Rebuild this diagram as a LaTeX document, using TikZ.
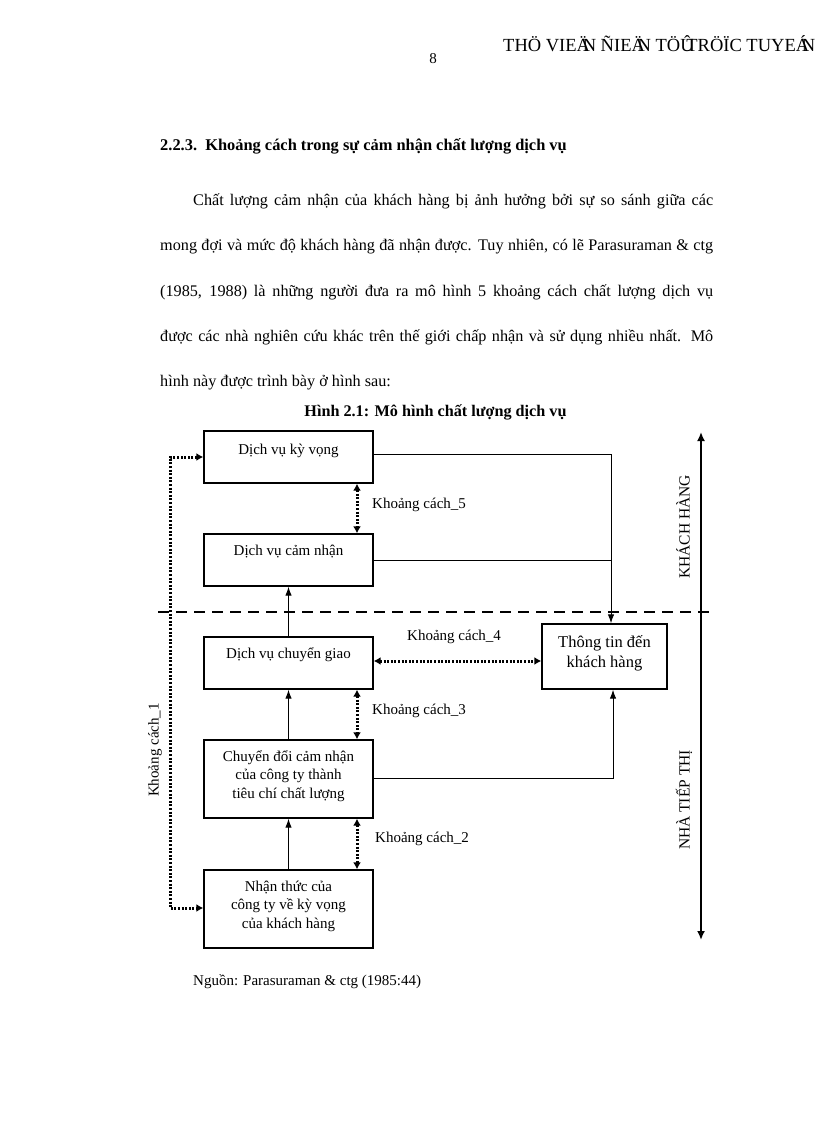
\documentclass[tikz,border=0pt]{standalone}
\usepackage{fontspec}
\setmainfont{Liberation Serif}
\usetikzlibrary{arrows.meta,calc}
\newcommand\ovch[1]{\makebox[0.33em][l]{#1}}
\newcommand\fullline[1]{\hbox to 553pt{#1}}
\begin{document}
\begin{tikzpicture}[x=1pt,y=-1pt,
  box/.style={draw, line width=1.4pt, minimum width=169pt, minimum height=52pt, inner sep=0pt},
  boxtext/.style={anchor=base, inner sep=0pt, align=center, font=\fontsize{15}{18.5}\selectfont},
  lab/.style={inner sep=0pt, font=\fontsize{15}{18}\selectfont},
  side/.style={inner sep=0pt, rotate=90, font=\fontsize{15.5}{18}\selectfont},
  conn/.style={line width=1pt},
  flow/.style={conn, -{Latex[length=9pt,width=6.5pt]}},
  gap/.style={line width=3pt, dash pattern=on 2pt off 1.6pt, {Latex[length=7pt,width=8pt]}-{Latex[length=7pt,width=8pt]}},
  axis/.style={line width=2.8pt, {Latex[length=9pt,width=8pt]}-{Latex[length=9pt,width=8pt]}},
  divider/.style={line width=2.8pt, dash pattern=on 11pt off 7pt},
  body/.style={inner sep=0pt, font=\fontsize{16.2}{45}\selectfont}
]
\fill[white] (0,0) rectangle (816,1123);
\useasboundingbox (0,0) rectangle (816,1123);

% header
\node[anchor=base, inner sep=0pt, font=\fontsize{15}{18}\selectfont] (pg) at (433,64) {8};
\node[anchor=base west, inner sep=0pt, font=\fontsize{18.5}{22}\selectfont] (hdr) at (503,52)
  {THÖ VIE\ovch{Ä}N ÑIE\ovch{Ä}N TÖ\ovch{Û}TRÖ\ovch{Ï}C TUYE\ovch{Á}N};

% heading
\node[anchor=base west, inner sep=0pt, font=\fontsize{16.4}{20}\selectfont\bfseries] (hd) at (160,151)
  {2.2.3.\ \ Khoảng cách trong sự cảm nhận chất lượng dịch vụ};

% paragraph
\node[body, anchor=base west] (par) at (160,206)
  {\vtop{\hsize=553pt\baselineskip=45pt\lineskiplimit=-100pt
   \spaceskip=0.25em plus 0.6em minus 0.14em\relax
   \fullline{\hspace*{33pt}Chất lượng cảm nhận của khách hàng bị ảnh hưởng bởi sự so sánh giữa các}
   \fullline{mong đợi và mức độ khách hàng đã nhận được. Tuy nhiên, có lẽ Parasuraman \& ctg}
   \fullline{(1985, 1988) là những người đưa ra mô hình 5 khoảng cách chất lượng dịch vụ}
   \fullline{được các nhà nghiên cứu khác trên thế giới chấp nhận và sử dụng nhiều nhất. Mô}
   \hbox{hình này được trình bày ở hình sau:}}};

% caption
\node[anchor=base, inner sep=0pt, font=\fontsize{16.2}{20}\selectfont\bfseries] (cap) at (435.5,416)
  {Hình 2.1: Mô hình chất lượng dịch vụ};

% boxes
\node[box] (b1) at (288.5,457) {};
\node[box] (b2) at (288.5,560) {};
\node[box] (b3) at (288.5,663) {};
\node[box, minimum height=78pt] (b4) at (288.5,779) {};
\node[box, minimum height=78pt] (b5) at (288.5,909) {};
\node[box, minimum width=125pt, minimum height=65pt] (b6) at (604.5,656.5) {};

% box texts (base = last line)
\node[boxtext] (t1) at (288.5,454) {Dịch vụ kỳ vọng};
\node[boxtext] (t2) at (288.5,555) {Dịch vụ cảm nhận};
\node[boxtext] (t3) at (288.5,658) {Dịch vụ chuyển giao};
\node[boxtext] (t4) at (288.5,798) {Chuyển đổi cảm nhận\\của công ty thành\\tiêu chí chất lượng};
\node[boxtext] (t5) at (288.5,928) {Nhận thức của\\công ty về kỳ vọng\\của khách hàng};
\node[boxtext, font=\fontsize{16.5}{20}\selectfont] (t6) at (604.5,667) {Thông tin đến\\khách hàng};

% helper coordinates
\coordinate (gx) at (357,0);
\coordinate (r1) at (611,454);
\coordinate (r4) at (613,778);
\coordinate (g4) at (0,661);
\coordinate (k1a) at (170,457);
\coordinate (k1b) at (170,908);
\coordinate (va) at (701,432);
\coordinate (vb) at (701,940);
\coordinate (da) at (158,612);
\coordinate (db) at (712,612);

% divider and side axis
\draw[divider] (da) -- (db);
\draw[axis] (va) -- (vb);

% solid flows
\draw[flow] (b3.north) -- (b2.south);
\draw[flow] (b4.north) -- (b3.south);
\draw[flow] (b5.north) -- (b4.south);
\draw[flow] (b1.east |- r1) -- (r1) -- (b6.north -| r1);
\draw[conn] (b2.east) -- (b2.east -| r1);
\draw[flow] (b4.east |- r4) -- (r4) -- (b6.south -| r4);

% gaps
\draw[gap] (b1.south -| gx) -- (b2.north -| gx);
\draw[gap] (b3.south -| gx) -- (b4.north -| gx);
\draw[gap] (b4.south -| gx) -- (b5.north -| gx);
\draw[gap] (b3.east |- g4) -- (b6.west |- g4);
\draw[gap] (b1.west |- k1a) -- (k1a) -- (k1b) -- (b5.west |- k1b);

% gap labels
\node[lab, anchor=west] (l5) at (372,505) {Khoảng cách\_5};
\node[lab, anchor=west] (l4) at (407,637) {Khoảng cách\_4};
\node[lab, anchor=west] (l3) at (372,711) {Khoảng cách\_3};
\node[lab, anchor=west] (l2) at (375,839) {Khoảng cách\_2};
\node[lab, rotate=90] (l1) at (155,750) {Khoảng cách\_1};

\node[side] (kh) at (683,527) {KHÁCH HÀNG};
\node[side] (nt) at (684,800) {NHÀ TIẾP THỊ};

% source
\node[anchor=base west, inner sep=0pt, font=\fontsize{15}{18}\selectfont] (src) at (193,985)
  {Nguồn: Parasuraman \& ctg (1985:44)};
\end{tikzpicture}
\end{document}
